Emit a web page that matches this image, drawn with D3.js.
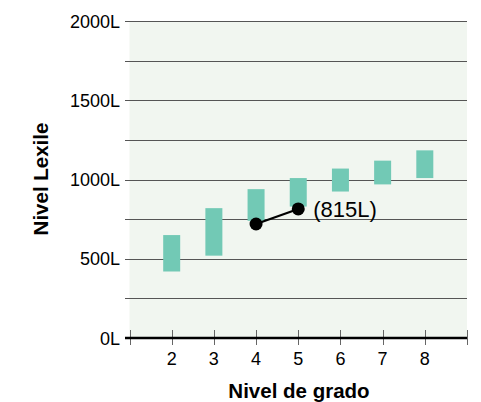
<!DOCTYPE html>
<html><head><meta charset="utf-8">
<script src="https://cdn.jsdelivr.net/npm/d3@7"></script>
<style>
body{margin:0;background:#fff;}
text{font-family:"Liberation Sans",Arial,sans-serif;fill:#000;}
</style></head>
<body><svg id="c" width="481" height="402"></svg>
<script>
const grades = [2,3,4,5,6,7,8];
const rangeLow  = [420,520,740,830,925,970,1010];
const rangeHigh = [650,820,940,1010,1070,1120,1185];
const studentGrades = [4,5];
const studentValues = [720,815];
const studentLabel = "(815L)";
const yTicks = [0,500,1000,1500,2000];
const yGrid = [250,500,750,1000,1250,1500,1750,2000];
const xTicks = [1,2,3,4,5,6,7,8,9];

const svg = d3.select("#c");
const x = d3.scaleLinear().domain([1,9]).range([129.5,467]);
const y = d3.scaleLinear().domain([0,2000]).range([338,21.3]);

svg.append("rect").attr("x",x(1)).attr("y",y(2000)).attr("width",x(9)-x(1)).attr("height",y(0)-y(2000)).attr("fill","#f1f6f0");

svg.selectAll(".grid").data(yGrid).enter().append("line")
  .attr("x1",125).attr("x2",x(9)).attr("y1",d=>Math.round(y(d))+0.5).attr("y2",d=>Math.round(y(d))+0.5)
  .attr("stroke","#555").attr("stroke-width",1);

// x ticks
svg.selectAll(".xt").data(xTicks).enter().append("line")
  .attr("x1",d=>Math.round(x(d))+0.5).attr("x2",d=>Math.round(x(d))+0.5).attr("y1",330).attr("y2",345)
  .attr("stroke","#666").attr("stroke-width",1);

// bottom axis
svg.append("line").attr("x1",125).attr("x2",x(9)).attr("y1",y(0)).attr("y2",y(0)).attr("stroke","#000").attr("stroke-width",2.5);

// bars
svg.selectAll(".bar").data(grades).enter().append("rect")
  .attr("x",(d)=>x(d)-8.5).attr("width",17)
  .attr("y",(d,i)=>y(rangeHigh[i])).attr("height",(d,i)=>y(rangeLow[i])-y(rangeHigh[i]))
  .attr("fill","#72c9b5");

// student line
const line = d3.line().x(d=>x(d[0])).y(d=>y(d[1]));
svg.append("path").datum(studentGrades.map((g,i)=>[g,studentValues[i]])).attr("d",line)
  .attr("fill","none").attr("stroke","#000").attr("stroke-width",2.2);
svg.selectAll(".pt").data(studentGrades).enter().append("circle")
  .attr("cx",d=>x(d)).attr("cy",(d,i)=>y(studentValues[i])).attr("r",6.5).attr("fill","#000");
svg.append("text").attr("x",x(5)+15).attr("y",y(studentValues[1])+8).attr("font-size",22).text(studentLabel);

// y tick labels
svg.selectAll(".yl").data(yTicks).enter().append("text")
  .attr("x",120).attr("y",d=>y(d)+6.5).attr("text-anchor","end").attr("font-size",18)
  .text(d=>d+"L");

// x tick labels
svg.selectAll(".xl").data(grades).enter().append("text")
  .attr("x",d=>x(d)).attr("y",365).attr("text-anchor","middle").attr("font-size",18)
  .text(d=>d);

svg.append("text").attr("x",299).attr("y",398).attr("text-anchor","middle").attr("font-size",20.5).attr("font-weight","bold").text("Nivel de grado");
svg.append("text").attr("transform","translate(48,179) rotate(-90)").attr("text-anchor","middle").attr("font-size",20.5).attr("font-weight","bold").text("Nivel Lexile");
</script></body></html>
